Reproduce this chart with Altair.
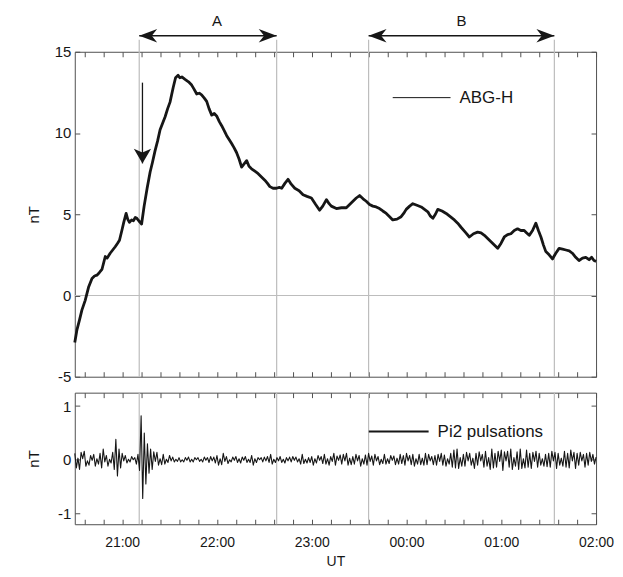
import altair as alt
import numpy as np
import pandas as pd

# ---------------- data ----------------
# ABG-H, minutes after 20:30 UT and nT
h_min = [0, 1.4, 3, 4.5, 6.6, 8.7, 10.9, 12.5, 14, 15.5, 17.2, 19.3, 20.5, 22.4, 24, 25.6, 27, 28.3,
         29.8, 31, 32.5, 33.5, 34.6, 36, 37.1, 38.3, 39.3, 40.5, 42.3, 43.9, 45.8, 47.7, 49.2, 50.8,
         52.4, 54, 55.6, 57.2, 58.8, 60.3, 62.3, 63.8, 65.4, 66.5, 67.8, 69.8, 72, 74, 75.5, 77.2,
         78.8, 80.3, 82, 83.5, 85, 86.7, 88.3, 89.8, 91.5, 93, 94.6, 96.1, 97.7, 99.3, 100.8, 102.4,
         104, 105.6, 107.2, 108.8, 110.3, 111.9, 114, 116.1, 118.2, 120.3, 122, 123.5, 125.5, 127.7,
         129.5, 131, 133, 135, 137, 139.3, 142, 144.5, 147, 149.8, 152.5, 155, 157, 159.3, 161, 162.4,
         165.6, 168.8, 171.9, 174, 176.1, 178.2, 180.3, 182.5, 184.5, 186.6, 188.7, 190.8, 192.9, 195,
         197.2, 199.3, 201.3, 204, 206.6, 208.2, 209.8, 212, 214, 216.6, 219.3, 221.4, 223.5, 225,
         226.7, 228.3, 229.8, 232.5, 235.1, 237.7, 240.3, 242.4, 244.5, 247.2, 249.8, 252.4, 255,
         257.2, 259.3, 261.4, 263.5, 265.6, 267.7, 269.8, 271.9, 274, 276.1, 278.2, 280.3, 282.4,
         284.5, 286.1, 287.7, 289.8, 291.9, 293.5, 295.1, 296.7, 298.2, 300.3, 302.4, 304.5, 306.6,
         308.8, 310.9, 313, 315, 317.1, 319.2, 321.4, 323.5, 325.6, 327.2, 328.7, 330]
h_val = [-2.9, -2.1, -1.5, -0.9, -0.3, 0.5, 1.05, 1.2, 1.25, 1.4, 1.6, 2.4, 2.3, 2.6, 2.8, 3.0, 3.2, 3.4,
         4.0, 4.5, 5.05, 4.7, 4.5, 4.65, 4.6, 4.8, 4.75, 4.6, 4.4, 5.5, 6.6, 7.6, 8.2, 8.9,
         9.5, 10.2, 10.6, 11.0, 11.5, 11.9, 12.8, 13.4, 13.55, 13.4, 13.45, 13.3, 13.15, 12.95, 12.7, 12.4,
         12.45, 12.35, 12.15, 11.95, 11.5, 11.1, 11.2, 11.05, 10.7, 10.45, 10.15, 9.85, 9.6, 9.35, 9.1, 8.8,
         8.4, 7.9, 8.1, 8.3, 7.95, 7.8, 7.65, 7.5, 7.3, 7.1, 6.9, 6.7, 6.6, 6.6,
         6.65, 6.6, 6.9, 7.15, 6.85, 6.6, 6.45, 6.2, 6.1, 6.0, 5.6, 5.25, 5.5, 5.9, 5.65, 5.5,
         5.35, 5.4, 5.4, 5.6, 5.8, 6.0, 6.15, 5.95, 5.8, 5.6, 5.5, 5.45, 5.35, 5.2,
         5.05, 4.85, 4.65, 4.7, 4.85, 5.05, 5.3, 5.5, 5.65, 5.55, 5.45, 5.3, 5.15, 4.9,
         4.75, 5.0, 5.3, 5.2, 5.05, 4.85, 4.65, 4.45, 4.2, 3.9, 3.6, 3.8, 3.9,
         3.85, 3.7, 3.5, 3.3, 3.1, 2.9, 3.2, 3.6, 3.75, 3.8, 4.0, 4.1, 4.0,
         4.0, 3.85, 3.7, 4.0, 4.45, 4.0, 3.6, 3.1, 2.7, 2.5, 2.25, 2.6, 2.9,
         2.85, 2.8, 2.75, 2.6, 2.35, 2.15, 2.3, 2.35, 2.2, 2.35, 2.15, 2.1]

# Pi2 pulsations, one value per minute after 20:30 UT (nT)
pi2_val = [
    0.12, -0.15, 0.03, -0.18, 0.14, 0.02, 0.16, -0.12, -0.02, -0.1,
    0.08, -0.01, 0.1, -0.12, 0.02, -0.08, 0.12, -0.15, 0.2, -0.04,
    0.08, -0.12, 0.01, -0.06, 0.14, -0.18, 0.38, -0.3, 0.2, -0.15,
    0.12, -0.02, 0.08, -0.06, 0.01, -0.04, 0.06, 0.0, 0.04, -0.08,
    0.1, -0.2, 0.82, -0.72, 0.5, -0.45, 0.3, -0.25, 0.2, -0.18,
    0.15, -0.03, 0.14, -0.1, 0.02, -0.09, 0.1, -0.08, 0.01, -0.05,
    0.08, -0.02, 0.05, -0.04, 0.01, -0.03, 0.04, -0.04, 0.0, -0.04,
    0.04, -0.01, 0.05, -0.04, 0.01, -0.04, 0.04, 0.0, 0.04, -0.03,
    0.01, -0.04, 0.05, -0.01, 0.04, -0.05, 0.06, -0.02, 0.05, -0.06,
    0.08, -0.1, 0.02, -0.09, 0.12, -0.03, 0.06, -0.07, 0.0, -0.04,
    0.05, -0.01, 0.06, -0.05, 0.02, -0.06, 0.05, -0.01, 0.06, -0.05,
    0.01, -0.05, 0.08, -0.1, 0.02, -0.05, 0.04, 0.0, 0.04, -0.04,
    0.05, -0.02, 0.06, -0.05, 0.1, -0.08, 0.01, -0.05, 0.04, -0.02,
    0.06, -0.05, 0.01, -0.06, 0.04, -0.02, 0.05, -0.04, 0.06, -0.01,
    0.05, -0.04, 0.02, -0.08, 0.1, -0.07, 0.01, -0.06, 0.04, -0.05,
    0.06, -0.1, 0.02, -0.06, 0.08, -0.01, 0.06, -0.07, 0.1, -0.08,
    0.02, -0.1, 0.06, -0.03, 0.12, -0.1, 0.07, -0.01, 0.09, -0.08,
    0.1, -0.02, 0.12, -0.1, 0.03, -0.09, 0.06, -0.08, 0.1, -0.02,
    0.08, -0.12, 0.02, -0.08, 0.09, -0.1, 0.12, -0.03, 0.07, -0.1,
    0.1, -0.02, 0.06, -0.09, 0.01, -0.07, 0.1, -0.08, 0.02, -0.07,
    0.08, -0.01, 0.07, -0.09, 0.03, -0.08, 0.1, -0.07, 0.08, -0.1,
    0.12, -0.02, 0.08, -0.09, 0.1, -0.12, 0.02, -0.08, 0.1, -0.09,
    0.03, -0.1, 0.12, -0.09, 0.1, -0.02, 0.06, -0.09, 0.08, -0.1,
    0.1, -0.03, 0.12, -0.1, 0.09, -0.12, 0.02, -0.08, 0.12, -0.14,
    0.18, -0.15, 0.2, -0.16, 0.04, -0.12, 0.1, -0.12, 0.14, -0.02,
    0.12, -0.1, 0.03, -0.16, 0.12, -0.1, 0.15, -0.02, 0.1, -0.14,
    0.16, -0.12, 0.04, -0.18, 0.2, -0.15, 0.12, -0.14, 0.16, -0.03,
    0.18, -0.2, 0.15, -0.02, 0.16, -0.14, 0.2, -0.18, 0.04, -0.12,
    0.15, -0.18, 0.2, -0.16, 0.02, -0.15, 0.18, -0.14, 0.12, -0.16,
    0.14, -0.03, 0.16, -0.14, 0.12, -0.1, 0.02, -0.12, 0.1, -0.13,
    0.12, -0.14, 0.16, -0.02, 0.14, -0.16, 0.12, -0.1, 0.03, -0.12,
    0.16, -0.14, 0.12, -0.15, 0.18, -0.02, 0.14, -0.16, 0.12, -0.1,
    0.14, -0.02, 0.1, -0.14, 0.12, -0.1, 0.14, -0.03, 0.1, -0.08, 0.05,
]

# event times (hours UT, past midnight > 24)
event_hours = [21.18, 22.63, 23.6, 25.56]
interval_start = [21.18, 23.6]
interval_end = [22.63, 25.56]
interval_labels = ["A", "B"]
interval_label_x = [22.0, 24.58]
onset_x = [21.214]
onset_top = [13.1]
onset_tip = [8.13]
legend_labels = ["ABG-H", "Pi2 pulsations"]

top_yticks = [-5, 0, 5, 10, 15]
bot_yticks = [-1, 0, 1]
xticks = [round(20.6 + 0.2 * k, 1) for k in range(28)]

# ---------------- tables ----------------
top_df = pd.DataFrame({"t": 20.5 + np.array(h_min) / 60.0, "v": h_val})
pi2_df = pd.DataFrame({"t": 20.5 + np.arange(len(pi2_val)) / 60.0, "v": pi2_val})
ev_df = pd.DataFrame({"t": event_hours})
arr_df = pd.DataFrame({"start": interval_start, "end": interval_end,
                       "label": interval_labels, "lx": interval_label_x})
onset_df = pd.DataFrame({"x": onset_x, "top": onset_top, "tip": onset_tip})
one = pd.DataFrame({"a": [0]})

# ---------------- style ----------------
FONT = "Liberation Sans"
INK = "#161616"
FRAME = "#505050"
GRID = "#bdbdbd"
W = 523
H_TOP = 326
H_BOT = 132

xs = alt.Scale(domain=[20.5, 26.0], nice=False, zero=False)
ys_top = alt.Scale(domain=[-5, 15], nice=False, zero=False)
ys_bot = alt.Scale(domain=[-1.2, 1.25], nice=False, zero=False)

LABEL_EXPR = ("abs(datum.value - round(datum.value)) < 0.01 ? "
              "((round(datum.value) % 24) < 10 ? '0' : '') + (round(datum.value) % 24) + ':00' : ''")

LEFT_HEAD = "M 0 0 L 2 -0.75 L 1.4 0 L 2 0.75 Z"
RIGHT_HEAD = "M 0 0 L -2 -0.75 L -1.4 0 L -2 0.75 Z"
DOWN_HEAD = "M 0 0 L -1 -1.7 L 0 -1.25 L 1 -1.7 Z"


def x_bottom(labels):
    return alt.Axis(orient="bottom", values=xticks, labels=labels, labelExpr=LABEL_EXPR,
                    tickSize=5, offset=-5, domain=False, grid=False, labelPadding=11,
                    titlePadding=5, labelFlush=False, labelOverlap=False)


def x_top():
    return alt.Axis(orient="top", values=xticks, labels=False, tickSize=5, offset=-5,
                    domain=False, grid=False)


def y_left(vals):
    return alt.Axis(orient="left", values=vals, labelExpr="'' + datum.value", tickSize=5,
                    offset=-5, domain=False, grid=False, labelPadding=4, titlePadding=8,
                    minExtent=30, maxExtent=30)


def y_right(vals):
    return alt.Axis(orient="right", values=vals, labels=False, tickSize=5, offset=-5,
                    domain=False, grid=False)


def panel(df, yscale, yticks, height, line_width, show_x_labels, legend_text,
          legend_x, legend_y, legend_w, legend_stroke, extra):
    vgrid = alt.Chart(ev_df).mark_rule(color=GRID, strokeWidth=1.2).encode(
        x=alt.X("t:Q", scale=xs, axis=None),
        y=alt.value(-12 if show_x_labels is False else 0),
        y2=alt.value(height),
    )
    line = alt.Chart(df).mark_line(color=INK, strokeWidth=line_width, strokeJoin="round").encode(
        x=alt.X("t:Q", scale=xs, axis=x_bottom(show_x_labels),
                title="UT" if show_x_labels else None),
        y=alt.Y("v:Q", scale=yscale, axis=y_left(yticks), title="nT"),
    )
    mirror = alt.Chart(df).mark_line(opacity=0).encode(
        x=alt.X("t:Q", scale=xs, axis=x_top(), title=None),
        y=alt.Y("v:Q", scale=yscale, axis=y_right(yticks), title=None),
    )
    leg_line = alt.Chart(one).mark_rule(color=INK, strokeWidth=legend_stroke).encode(
        x=alt.value(legend_x), x2=alt.value(legend_x + legend_w), y=alt.value(legend_y)
    )
    leg_text = alt.Chart(one).mark_text(
        align="left", baseline="middle", font=FONT, fontSize=17, color=INK
    ).encode(x=alt.value(legend_x + legend_w + 9), y=alt.value(legend_y),
             text=alt.value(legend_text))
    layers = [vgrid] + extra + [line, mirror, leg_line, leg_text]
    return alt.layer(*layers).resolve_axis(x="independent", y="independent").properties(
        width=W, height=height)


zero_line = alt.Chart(pd.DataFrame({"z": [0]})).mark_rule(color=GRID, strokeWidth=1.2).encode(
    y=alt.Y("z:Q", scale=ys_top, axis=None)
)
arr_line = alt.Chart(arr_df).mark_rule(color=INK, strokeWidth=1.5).encode(
    x=alt.X("start:Q", scale=xs, axis=None), x2="end:Q", y=alt.value(-16)
)
arr_left = alt.Chart(arr_df).mark_point(shape=LEFT_HEAD, size=324, filled=True, color=INK,
                                         opacity=1, strokeWidth=0).encode(
    x=alt.X("start:Q", scale=xs, axis=None), y=alt.value(-16)
)
arr_right = alt.Chart(arr_df).mark_point(shape=RIGHT_HEAD, size=324, filled=True, color=INK,
                                          opacity=1, strokeWidth=0).encode(
    x=alt.X("end:Q", scale=xs, axis=None), y=alt.value(-16)
)
arr_text = alt.Chart(arr_df).mark_text(font=FONT, fontSize=15, color=INK, baseline="middle").encode(
    x=alt.X("lx:Q", scale=xs, axis=None), y=alt.value(-31), text="label:N"
)
onset_line = alt.Chart(onset_df).mark_rule(color=INK, strokeWidth=1.3).encode(
    x=alt.X("x:Q", scale=xs, axis=None),
    y=alt.Y("top:Q", scale=ys_top, axis=None), y2="tip:Q"
)
onset_head = alt.Chart(onset_df).mark_point(shape=DOWN_HEAD, size=300, filled=True, color=INK,
                                             opacity=1, strokeWidth=0).encode(
    x=alt.X("x:Q", scale=xs, axis=None), y=alt.Y("tip:Q", scale=ys_top, axis=None)
)

top = panel(top_df, ys_top, top_yticks, H_TOP, 2.8, False, legend_labels[0],
            319, 46, 58, 1.0,
            [zero_line, arr_line, arr_left, arr_right, arr_text, onset_line, onset_head])
bottom = panel(pi2_df, ys_bot, bot_yticks, H_BOT, 1.1, True, legend_labels[1],
               295, 39, 60, 2.0, [])

chart = alt.vconcat(top, bottom, spacing=16, bounds="flush").properties(
    padding={"left": 18, "top": 4, "right": 0, "bottom": 0}
).configure_view(stroke=FRAME, strokeWidth=1).configure_axis(
    labelFont=FONT, titleFont=FONT, labelFontSize=15, titleFontSize=15,
    labelColor=INK, titleColor=INK, tickColor=FRAME, tickWidth=1,
    titleFontWeight="normal"
).configure_axisX(labelFontSize=14, titleFontSize=14)

chart.save("out.html", embed_options={"renderer": "svg", "actions": False})
